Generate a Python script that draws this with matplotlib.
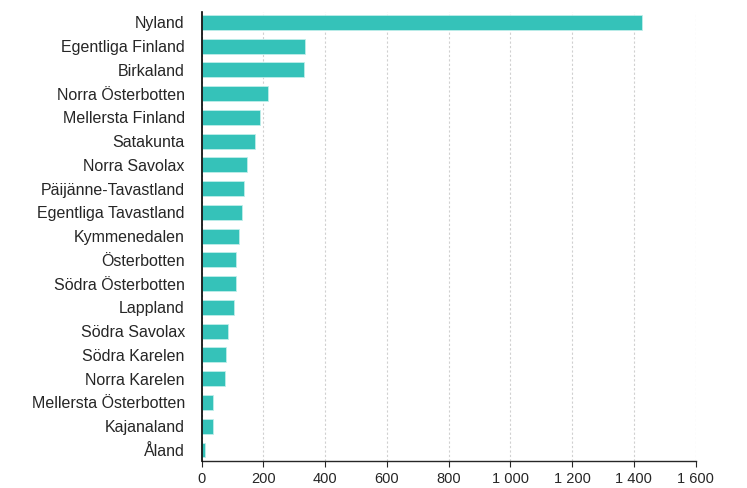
import matplotlib
matplotlib.use('Agg')
import matplotlib.pyplot as plt
from matplotlib.ticker import FuncFormatter

plt.rcParams['font.family'] = ['Liberation Sans', 'DejaVu Sans']

regions = ['Nyland', 'Egentliga Finland', 'Birkaland', 'Norra Österbotten',
           'Mellersta Finland', 'Satakunta', 'Norra Savolax', 'Päijänne-Tavastland',
           'Egentliga Tavastland', 'Kymmenedalen', 'Österbotten', 'Södra Österbotten',
           'Lappland', 'Södra Savolax', 'Södra Karelen', 'Norra Karelen',
           'Mellersta Österbotten', 'Kajanaland', 'Åland']
values = [1425, 335, 331, 214, 189, 174, 148, 138, 132, 122,
          112, 112, 106, 85, 80, 75, 38, 38, 12]
xticks = [0, 200, 400, 600, 800, 1000, 1200, 1400, 1600]

fig = plt.figure(figsize=(7.47, 4.88), dpi=100)
ax = fig.add_axes([201.5 / 747, 1 - 460.7 / 488, (695.7 - 201.5) / 747, (460.7 - 11.7) / 488])

y = list(range(len(regions)))
ax.barh(y, values, height=0.63, color='#35c2b9', edgecolor='#bfeeea', linewidth=0.6, zorder=3)

ax.set_ylim(len(regions) - 0.55, -0.45)
ax.set_xlim(0, 1600)
ax.set_yticks(y)
ax.set_yticklabels(regions, fontsize=11.5, color='#262626')
ax.set_xticks(xticks)
ax.xaxis.set_major_formatter(FuncFormatter(lambda v, p: f'{int(v):,}'.replace(',', ' ')))
ax.tick_params(axis='x', labelsize=10.5, colors='#262626', length=4, width=0.8, direction='out', pad=4)
ax.tick_params(axis='y', length=0, pad=12)

ax.grid(axis='x', linestyle=(0, (2, 2)), color='#d0d0d0', linewidth=0.8, zorder=0)
for s in ['top', 'right']:
    ax.spines[s].set_visible(False)
ax.spines['left'].set_color('#000000')
ax.spines['bottom'].set_color('#262626')
ax.spines['left'].set_linewidth(1.2)
ax.spines['bottom'].set_linewidth(1.0)
ax.spines['left'].set_zorder(4)

plt.savefig('out.png', dpi=100)
